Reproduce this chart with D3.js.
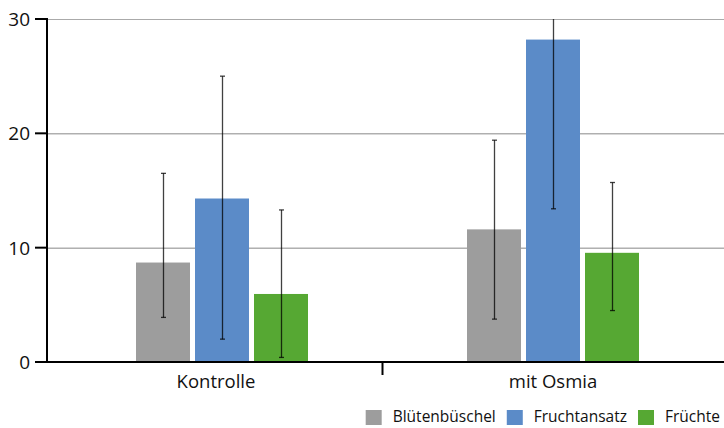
<!DOCTYPE html>
<html>
<head>
<meta charset="utf-8">
<script src="https://cdn.jsdelivr.net/npm/d3@7"></script>
<style>
    body { margin: 0; background: #fff; }
    svg { display: block; }
    text { font-family: "Open Sans", sans-serif; fill: #111; }
</style>
</head>
<body>
<svg id="chart" width="724" height="428"></svg>
<script>
const categories = ['Kontrolle', 'mit Osmia'];
const series = ['Blütenbüschel', 'Fruchtansatz', 'Früchte'];
const colors = ['#9d9d9d', '#5b8bc8', '#56a833'];
// mean values per series, in category order
const bluetenbueschel = [8.7, 11.6];
const fruchtansatz = [14.3, 28.2];
const fruechte = [5.95, 9.55];
// error bar ends
const errLow = [[3.9, 3.75], [2.0, 13.4], [0.4, 4.5]];
const errHigh = [[16.5, 19.4], [25.0, 43.0], [13.3, 15.7]];
const yTicks = [0, 10, 20, 30];

const values = [bluetenbueschel, fruchtansatz, fruechte];

const svg = d3.select('#chart');
const margin = { left: 47, top: 19, bottom: 362 };

const yScale = d3.scaleLinear().domain([0, 30]).range([margin.bottom, margin.top]);
const xScale = d3.scaleBand().domain(categories).range([56.5, 718.5]);
const xInner = d3.scaleBand().domain(series).range([-86, 86]).paddingInner(5 / 59);

// grid lines
svg.append('g').selectAll('line')
    .data(yTicks.filter(d => d > 0))
    .enter().append('line')
    .attr('x1', margin.left).attr('x2', 724)
    .attr('y1', d => yScale(d) + 0.5).attr('y2', d => yScale(d) + 0.5)
    .attr('stroke', d => d === 30 ? '#aaa' : '#888')
    .attr('stroke-width', 1);

// bars
const groups = svg.append('g').selectAll('g')
    .data(categories)
    .enter().append('g')
    .attr('transform', d => 'translate(' + (xScale(d) + xScale.bandwidth() / 2) + ',0)');

groups.each(function(cat, ci) {
    const g = d3.select(this);
    series.forEach(function(s, si) {
        const v = values[si][ci];
        g.append('rect')
            .attr('x', xInner(s))
            .attr('width', xInner.bandwidth())
            .attr('y', yScale(v))
            .attr('height', yScale(0) - yScale(v))
            .attr('fill', colors[si]);
    });
});

// error bars
groups.each(function(cat, ci) {
    const g = d3.select(this);
    series.forEach(function(s, si) {
        const cx = Math.round(xInner(s) + xInner.bandwidth() / 2) + 0.5;
        const lo = errLow[si][ci];
        const hi = errHigh[si][ci];
        const clipped = hi > yScale.domain()[1];
        const yHi = yScale(Math.min(hi, yScale.domain()[1]));
        g.append('line')
            .attr('x1', cx).attr('x2', cx)
            .attr('y1', yScale(lo)).attr('y2', yHi)
            .attr('stroke', 'rgba(0,0,0,0.75)')
            .attr('stroke-width', 1.3);
        g.append('line')
            .attr('x1', cx - 2.5).attr('x2', cx + 2.5)
            .attr('y1', yScale(lo)).attr('y2', yScale(lo))
            .attr('stroke', 'rgba(0,0,0,0.75)')
            .attr('stroke-width', 1.3);
        if (!clipped) {
            g.append('line')
                .attr('x1', cx - 2.5).attr('x2', cx + 2.5)
                .attr('y1', yHi).attr('y2', yHi)
                .attr('stroke', 'rgba(0,0,0,0.75)')
                .attr('stroke-width', 1.3);
        }
    });
});

// y axis
const yAxis = svg.append('g');
yAxis.append('line')
    .attr('x1', margin.left).attr('x2', margin.left)
    .attr('y1', margin.top - 1).attr('y2', margin.bottom + 1)
    .attr('stroke', '#000').attr('stroke-width', 2);
yAxis.selectAll('.tick')
    .data(yTicks)
    .enter().append('line')
    .attr('x1', 35).attr('x2', margin.left)
    .attr('y1', d => yScale(d)).attr('y2', d => yScale(d))
    .attr('stroke', '#000').attr('stroke-width', 2);
yAxis.selectAll('text')
    .data(yTicks)
    .enter().append('text')
    .attr('x', 30)
    .attr('y', d => yScale(d))
    .attr('dy', '0.36em')
    .attr('text-anchor', 'end')
    .style('font-size', '19px')
    .text(d => d);

// x axis
const xAxis = svg.append('g');
xAxis.append('line')
    .attr('x1', 35).attr('x2', 724)
    .attr('y1', margin.bottom).attr('y2', margin.bottom)
    .attr('stroke', '#000').attr('stroke-width', 2);
xAxis.append('line')
    .attr('x1', xScale(categories[1]) - 5).attr('x2', xScale(categories[1]) - 5)
    .attr('y1', margin.bottom).attr('y2', margin.bottom + 13)
    .attr('stroke', '#000').attr('stroke-width', 2);
xAxis.selectAll('text')
    .data(categories)
    .enter().append('text')
    .attr('x', d => xScale(d) + xScale.bandwidth() / 2 - (d === 'Kontrolle' ? 6 : 0))
    .attr('y', 388)
    .attr('text-anchor', 'middle')
    .style('font-size', '18.5px')
    .text(d => d);

// legend, right aligned
const legend = svg.append('g');
const items = legend.selectAll('g')
    .data(series)
    .enter().append('g');
items.append('rect')
    .attr('width', 16).attr('height', 15)
    .attr('y', 410)
    .attr('fill', (d, i) => colors[i]);
items.append('text')
    .attr('x', 27)
    .attr('y', 422)
    .style('font-size', '15.5px')
    .text(d => d);
let widths = [];
items.each(function() {
    widths.push(27 + d3.select(this).select('text').node().getComputedTextLength());
});
let x = 720 - d3.sum(widths) - 11 * (series.length - 1);
items.attr('transform', function(d, i) {
    const t = 'translate(' + x + ',0)';
    x += widths[i] + 11;
    return t;
});
</script>
</body>
</html>
